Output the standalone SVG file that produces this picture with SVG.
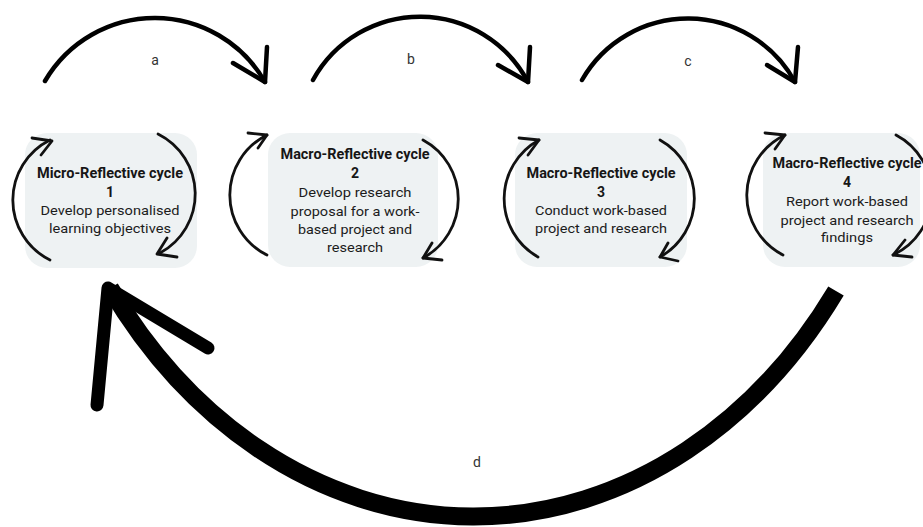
<svg xmlns="http://www.w3.org/2000/svg" width="923" height="527" viewBox="0 0 923 527">
  <style>
    .box { fill: #eef2f3; }
    .title { font-family: Roboto, "Liberation Sans", sans-serif; font-weight: bold; font-size: 14px; fill: #161616; text-anchor: middle; }
    .body { font-family: Roboto, "Liberation Sans", sans-serif; font-size: 13.5px; fill: #1c1c1c; text-anchor: middle; }
    .lbl { font-family: Roboto, "Liberation Sans", sans-serif; font-size: 14px; fill: #333; text-anchor: middle; }
    .loop { fill: none; stroke: #111; stroke-width: 2.8; stroke-linecap: round; stroke-linejoin: round; }
    .hop { fill: none; stroke: #000; stroke-width: 4.5; stroke-linecap: round; stroke-linejoin: round; }
    .back { fill: none; stroke: #000; stroke-width: 18; stroke-linecap: butt; }
    .backhead { fill: none; stroke: #000; stroke-width: 13; stroke-linecap: round; stroke-linejoin: round; }
  </style>

  <!-- cycle 1 -->
  <g id="node1">
    <rect class="box" x="25" y="133" width="172" height="135" rx="22"/>
    <path class="loop" d="M50 260 A67 67 0 0 1 50 140"/>
    <polyline class="loop" points="32,138 52,141 41,155"/>
    <path class="loop" d="M158 134 A67 67 0 0 1 160 253"/>
    <polyline class="loop" points="177,257 157,254 167,238"/>
    <text class="title" x="110" y="178" textLength="146" lengthAdjust="spacingAndGlyphs">Micro-Reflective cycle</text>
    <text class="title" x="110" y="197">1</text>
    <text class="body" x="110" y="215" textLength="139" lengthAdjust="spacingAndGlyphs">Develop personalised</text>
    <text class="body" x="110" y="233" textLength="122" lengthAdjust="spacingAndGlyphs">learning objectives</text>
  </g>

  <!-- cycle 2 -->
  <g id="node2">
    <rect class="box" x="268" y="133" width="170" height="134" rx="22"/>
    <path class="loop" d="M267 255 A67 67 0 0 1 267 135"/>
    <polyline class="loop" points="248,133 267,135 258,148"/>
    <path class="loop" d="M423 140 A67 67 0 0 1 423 258"/>
    <polyline class="loop" points="442,260 423,258 432,243"/>
    <text class="title" x="355" y="159" textLength="149" lengthAdjust="spacingAndGlyphs">Macro-Reflective cycle</text>
    <text class="title" x="355" y="178">2</text>
    <text class="body" x="355" y="197" textLength="113" lengthAdjust="spacingAndGlyphs">Develop research</text>
    <text class="body" x="355" y="216" textLength="129" lengthAdjust="spacingAndGlyphs">proposal for a work-</text>
    <text class="body" x="355" y="234" textLength="114" lengthAdjust="spacingAndGlyphs">based project and</text>
    <text class="body" x="355" y="252" textLength="56" lengthAdjust="spacingAndGlyphs">research</text>
  </g>

  <!-- cycle 3 -->
  <g id="node3">
    <rect class="box" x="515" y="133" width="172" height="134" rx="22"/>
    <path class="loop" d="M538 257 A67 67 0 0 1 539 140"/>
    <polyline class="loop" points="519,138 539,140 528,155"/>
    <path class="loop" d="M660 140 A67 67 0 0 1 660 257"/>
    <polyline class="loop" points="678,261 660,257 668,243"/>
    <text class="title" x="601" y="178" textLength="149" lengthAdjust="spacingAndGlyphs">Macro-Reflective cycle</text>
    <text class="title" x="601" y="197">3</text>
    <text class="body" x="601" y="215" textLength="132" lengthAdjust="spacingAndGlyphs">Conduct work-based</text>
    <text class="body" x="601" y="233" textLength="132" lengthAdjust="spacingAndGlyphs">project and research</text>
  </g>

  <!-- cycle 4 -->
  <g id="node4">
    <rect class="box" x="763" y="133" width="157" height="134" rx="22"/>
    <path class="loop" d="M783 255 A67 67 0 0 1 785 135"/>
    <polyline class="loop" points="765,133 785,135 775,149"/>
    <path class="loop" d="M896 135 A67 67 0 0 1 893 255"/>
    <polyline class="loop" points="912,257 893,255 905,240"/>
    <text class="title" x="847" y="168" textLength="149" lengthAdjust="spacingAndGlyphs">Macro-Reflective cycle</text>
    <text class="title" x="847" y="187">4</text>
    <text class="body" x="847" y="206" textLength="122" lengthAdjust="spacingAndGlyphs">Report work-based</text>
    <text class="body" x="847" y="225" textLength="133" lengthAdjust="spacingAndGlyphs">project and research</text>
    <text class="body" x="847" y="242" textLength="52" lengthAdjust="spacingAndGlyphs">findings</text>
  </g>

  <!-- connectors between cycles and the return loop -->
  <g id="connectors">
    <g id="edge-a">
      <path class="hop" d="M45 81 A127 127 0 0 1 265 82"/>
      <polyline class="hop" points="267,47 265,82 233,63"/>
      <text class="lbl" x="155" y="65">a</text>
    </g>
    <g id="edge-b">
      <path class="hop" d="M313 80 A122 122 0 0 1 528 82"/>
      <polyline class="hop" points="530,47 528,82 498,65"/>
      <text class="lbl" x="411" y="64">b</text>
    </g>
    <g id="edge-c">
      <path class="hop" d="M582 80 A122 122 0 0 1 795 82"/>
      <polyline class="hop" points="798,47 795,82 767,65"/>
      <text class="lbl" x="688" y="66">c</text>
    </g>
    <g id="edge-d">
      <path class="back" d="M836 291 A450 555 0 0 1 110 288"/>
      <polyline class="backhead" points="97,405 108,288 208,348"/>
      <text class="lbl" x="477" y="467">d</text>
    </g>
  </g>
</svg>
